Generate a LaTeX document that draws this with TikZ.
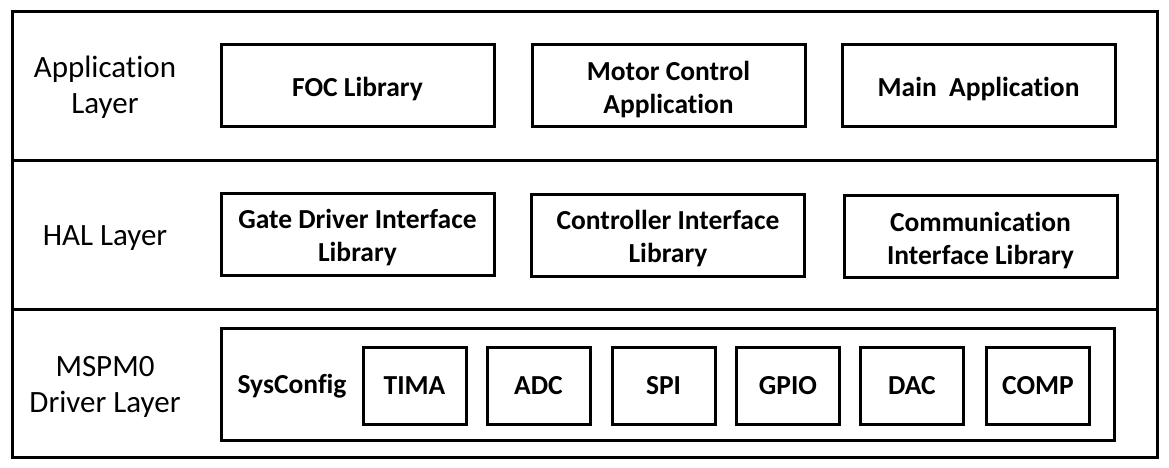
\documentclass[tikz,border=0pt]{standalone}
\usepackage{fontspec}
\setmainfont{Carlito}[Ligatures=CommonOff]
\usepackage{tikz}
\usetikzlibrary{positioning}

\tikzset{
    band/.style={draw, line width=3pt, minimum width=1145pt, inner sep=0pt},
    libtext/.style={align=center, yshift=-4pt, font=\fontsize{27.5}{33}\selectfont\bfseries},
    lib/.style={draw, line width=3pt, minimum width=273pt, minimum height=82pt, inner sep=0pt, label={[libtext]center:#1}},
    periph/.style={draw, line width=3pt, minimum width=103pt, minimum height=77pt, inner sep=0pt, font=\fontsize{27.5}{33}\selectfont\bfseries},
    layerlabel/.style={align=center, font=\fontsize{31}{36}\selectfont}
}

\begin{document}
\begin{tikzpicture}[x=1pt, y=-1pt]
    \useasboundingbox (0,0) rectangle (1169,468);
    % layers
    \node[band, minimum height=148pt] (applayer) at (584.5,86) {};
    \node[band, minimum height=149pt] (hallayer) at (584.5,234.5) {};
    \node[band, minimum height=148pt] (drvlayer) at (584.5,383) {};
    \node[layerlabel] (applabel) at (105,87) {Application\\Layer};
    \node[layerlabel] (hallabel) at (105,238) {HAL Layer};
    \node[layerlabel] (drvlabel) at (105,387) {MSPM0\\Driver Layer};
    % application layer
    \node[lib={FOC Library}] (foc) at (357.5,85.5) {};
    \node[lib={Motor Control\\Application}] (motor) at (668.5,86) {};
    \node[lib={Main~~Application}] (mainapp) at (978.5,85.5) {};
    % HAL layer
    \node[lib={Gate Driver Interface\\Library}] (gate) at (357.5,234) {};
    \node[lib={Controller Interface\\Library}] (ctrl) at (668,235) {};
    \node[lib={Communication\\Interface Library}] (comm) at (980.5,236.5) {};
    % driver layer
    \node[draw, line width=3pt, minimum width=893pt, minimum height=112pt, inner sep=0pt] (drv) at (667.5,384) {};
    \node[anchor=base, font=\fontsize{27.5}{33}\selectfont\bfseries] (sysconfig) at (292,393) {SysConfig};
    \node[periph] (tima) at (414.5,385.5) {TIMA};
    \node[periph] (adc) at (538.5,385.5) {ADC};
    \node[periph] (spi) at (663.5,385.5) {SPI};
    \node[periph] (gpio) at (788,385.5) {GPIO};
    \node[periph] (dac) at (912,385.5) {DAC};
    \node[periph] (comp) at (1038,385.5) {COMP};
\end{tikzpicture}
\end{document}
